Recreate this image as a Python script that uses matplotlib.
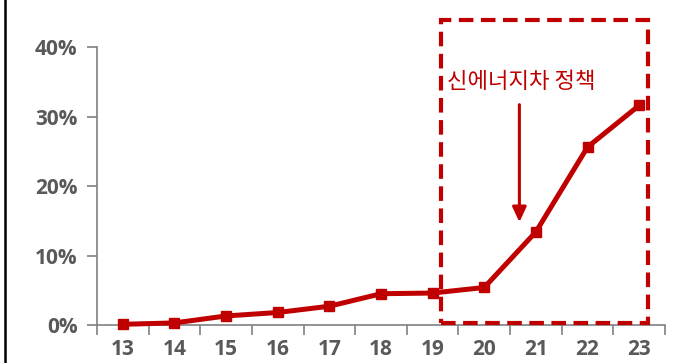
import matplotlib
matplotlib.use('Agg')
import matplotlib.pyplot as plt
from matplotlib.patches import Rectangle
from matplotlib.lines import Line2D

years = ['13', '14', '15', '16', '17', '18', '19', '20', '21', '22', '23']
share = [0.1, 0.3, 1.3, 1.8, 2.7, 4.5, 4.6, 5.4, 13.4, 25.6, 31.6]
y_ticks = [0, 10, 20, 30, 40]
note = '신에너지차 정책'

red = '#C00000'
grey = '#595959'
plt.rcParams['font.family'] = ['Noto Sans CJK KR', 'DejaVu Sans']

fig = plt.figure(figsize=(6.78, 3.63), dpi=100)
ax = fig.add_axes([97 / 678, 1 - 325 / 363, (665 - 97) / 678, (325 - 47) / 363])

x = list(range(len(years)))
ax.plot(x, share, color=red, lw=3.6, marker='s', ms=7.5, clip_on=False, zorder=3)

ax.set_xlim(-0.5, len(years) - 0.5)
ax.set_ylim(0, 40)

# category labels at centres, tick marks between categories
ax.set_xticks(x)
ax.set_xticklabels(years)
ax.set_xticks([i - 0.5 for i in range(len(years) + 1)], minor=True)
ax.tick_params(axis='x', which='major', length=0, pad=10)
ax.tick_params(axis='x', which='minor', length=7, width=1.2, color='#808080')

ax.set_yticks(y_ticks)
ax.set_yticklabels([f'{v}%' for v in y_ticks])
ax.tick_params(axis='y', length=7, width=1.2, color='#808080', pad=7)

for lab in ax.get_xticklabels() + ax.get_yticklabels():
    lab.set_family(['Open Sans', 'DejaVu Sans'])
    lab.set_fontsize(15)
    lab.set_color(grey)
    lab.set_fontweight('bold')

for side in ['top', 'right']:
    ax.spines[side].set_visible(False)
for side in ['left', 'bottom']:
    ax.spines[side].set_color('#808080')
    ax.spines[side].set_linewidth(1.2)

# policy period box
box = Rectangle((6.17, 0.3), 4.0, 43.6, fill=False, ec=red, lw=3,
                ls=(0, (3.5, 1.8)), clip_on=False, zorder=4)
ax.add_patch(box)

ax.text(6.28, 35.0, note, color=red, fontsize=16, va='center', ha='left')
ax.annotate('', xy=(7.68, 14.8), xytext=(7.68, 31.7),
            arrowprops=dict(arrowstyle='-|>,head_length=0.9,head_width=0.42',
                            color=red, lw=2.2, shrinkA=0, shrinkB=0))

fig.add_artist(Line2D([5 / 678, 5 / 678], [0, 1], color='black', lw=1.8))

fig.savefig('out.png', dpi=100)
